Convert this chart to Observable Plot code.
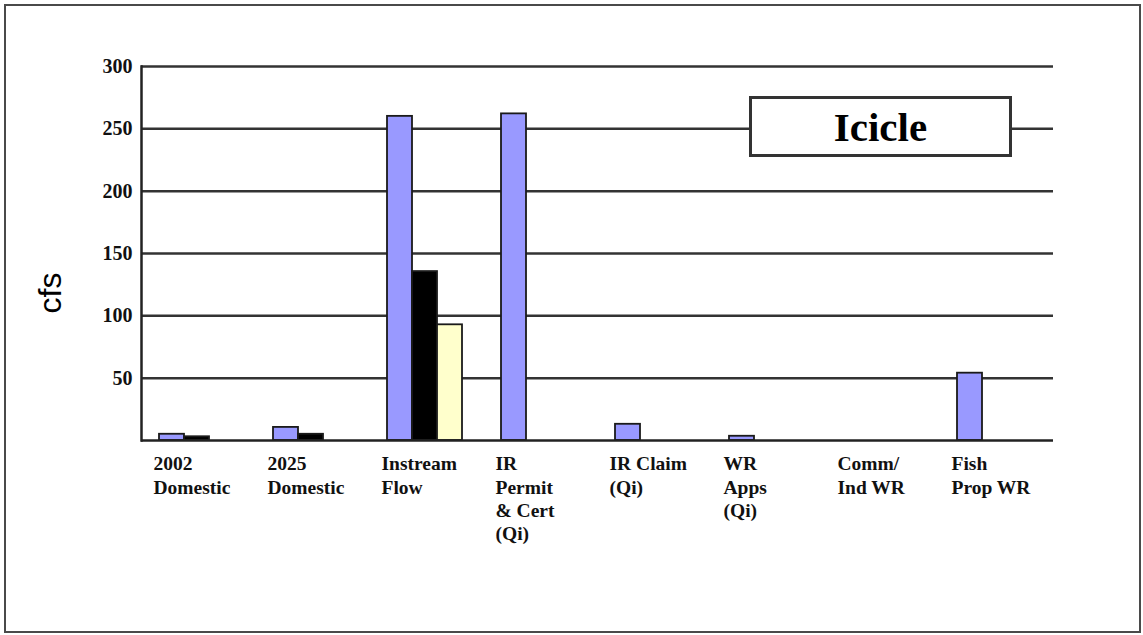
<!DOCTYPE html>
<html>
<head>
<meta charset="utf-8">
<script src="https://cdn.jsdelivr.net/npm/d3@7"></script>
<script src="https://cdn.jsdelivr.net/npm/@observablehq/plot@0.6"></script>
<style>
  body { margin: 0; background: #fff; }
  #wrap { position: relative; width: 1143px; height: 635px; overflow: hidden; background: #fff; }
  #frame { position: absolute; left: 4px; top: 4px; width: 1137px; height: 629px; box-sizing: border-box;
           border: 2.5px solid #4a4a4a; }
  #chart { position: absolute; left: 0; top: 0; }
  #ylabel { position: absolute; left: 50px; top: 293px; transform: translate(-50%, -50%) rotate(-90deg);
            font-family: "Liberation Sans", Arial, sans-serif; font-size: 32px; color: #000; white-space: nowrap; }
  #titlebox { position: absolute; left: 749px; top: 96px; width: 263px; height: 61px; box-sizing: border-box;
              border: 3px solid #333; background: #fff; display: flex; align-items: center; justify-content: center;
              font-family: "Liberation Serif", "Times New Roman", serif; font-weight: bold; font-size: 41px; color: #000; }
</style>
</head>
<body>
<div id="wrap">
  <div id="frame"></div>
  <div id="chart"></div>
  <div id="ylabel">cfs</div>
  <div id="titlebox">Icicle</div>
</div>
<script>
const categories = [
  "2002\nDomestic",
  "2025\nDomestic",
  "Instream\nFlow",
  "IR\nPermit\n& Cert\n(Qi)",
  "IR Claim\n(Qi)",
  "WR\nApps\n(Qi)",
  "Comm/\nInd WR",
  "Fish\nProp WR"
];
const seriesNames = ["Series 1", "Series 2", "Series 3"];
const series1 = [5, 10.5, 260, 262, 13, 3.4, 0, 54];
const series2 = [3, 5, 135.5, 0, 0, 0, 0, 0];
const series3 = [0, 0, 92.8, 0, 0, 0, 0, 0];
const yTicks = [50, 100, 150, 200, 250, 300];
const colors = ["#9999ff", "#000000", "#ffffcc"];

const rows = [];
[series1, series2, series3].forEach((s, j) =>
  s.forEach((v, i) => rows.push({category: categories[i], series: seriesNames[j], value: v}))
);

const serif = "Liberation Serif, Times New Roman, serif";

const chart = Plot.plot({
  width: 1143,
  height: 635,
  marginLeft: 139,
  marginRight: 88,
  marginTop: 66,
  marginBottom: 195,
  style: {background: "transparent", overflow: "visible"},
  fx: {domain: categories, padding: 0, axis: null},
  x: {domain: seriesNames, paddingInner: 0, paddingOuter: 0.745, align: 0.47, axis: null},
  y: {domain: [0, 300], axis: null},
  color: {domain: seriesNames, range: colors},
  marks: [
    Plot.ruleY(yTicks, {stroke: "#333", strokeWidth: 2.5}),
    Plot.barY(rows.filter(d => d.value > 0), {
      fx: "category", x: "series", y: "value", fill: "series",
      stroke: "#1a1a1a", strokeWidth: 1.8
    }),
    Plot.ruleY([0], {stroke: "#222", strokeWidth: 2.5}),
    Plot.frame({anchor: "left", facetAnchor: "left", stroke: "#222", strokeWidth: 2.5}),
    Plot.axisY(yTicks, {
      tickSize: 0, tickPadding: 9, label: null,
      fontSize: 20, fontWeight: "bold", fontFamily: serif, fill: "#111"
    }),
    Plot.text(categories, {
      fx: d => d, text: d => d,
      frameAnchor: "bottom-left", textAnchor: "start", lineAnchor: "top",
      dx: 12, dy: 13, lineHeight: 1.2,
      fontSize: 19.5, fontWeight: "bold", fontFamily: serif, fill: "#111"
    })
  ]
});
document.getElementById("chart").appendChild(chart);
</script>
</body>
</html>
